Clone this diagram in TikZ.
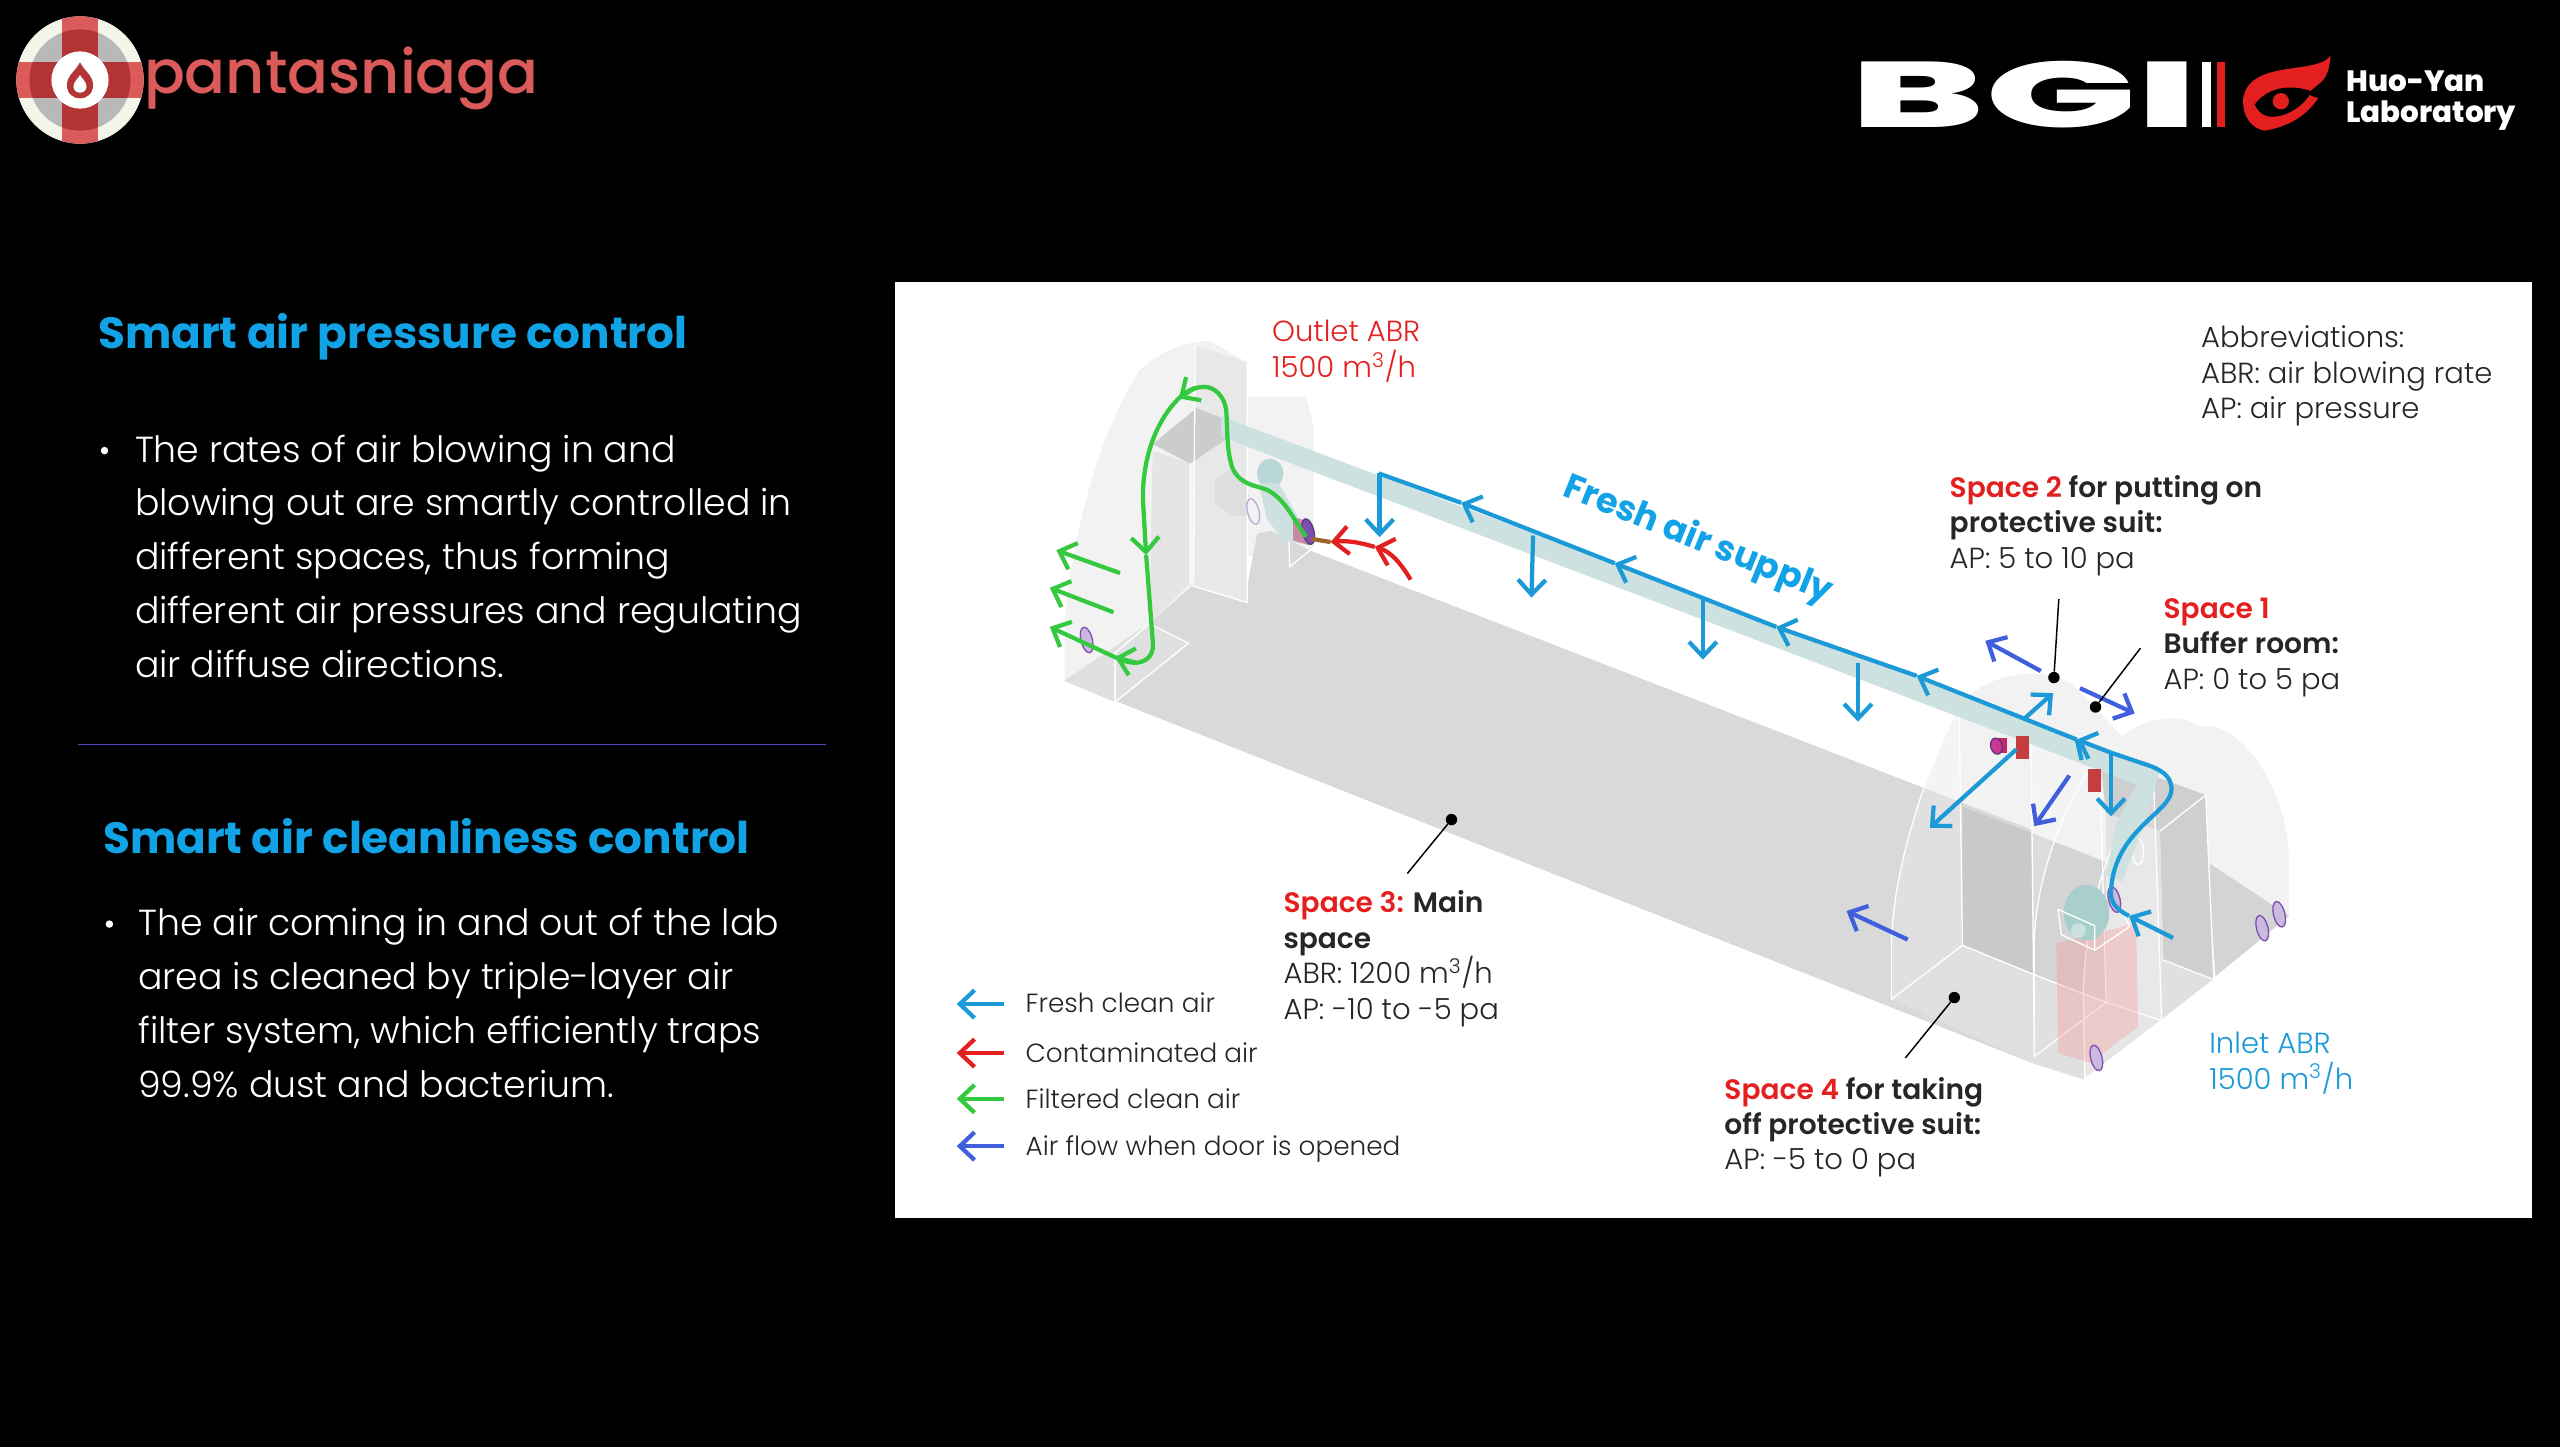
\documentclass[tikz,border=0pt]{standalone}
\usepackage{fontspec}
\setmainfont{Poppins}[UprightFont=* Light, BoldFont=* SemiBold]
\newfontfamily\logofont{Poppins}[UprightFont=* Medium, BoldFont=* ExtraBold]
\newfontfamily\headfont{Poppins}[UprightFont=* Bold]
\usetikzlibrary{arrows.meta,positioning,shapes.geometric}
\definecolor{headblue}{HTML}{12A3E6}
\definecolor{freshblue}{HTML}{1C9AD8}
\definecolor{doorblue}{HTML}{3F5FDC}
\definecolor{dirtyred}{HTML}{E3201F}
\definecolor{cleangreen}{HTML}{35C93F}
\definecolor{logored}{HTML}{DB5B5B}
\definecolor{logodark}{HTML}{B33434}
\definecolor{tubeteal}{HTML}{CDE2E0}
\definecolor{fanteal}{HTML}{A8CFCB}
\definecolor{filterpurple}{HTML}{7E4FB0}
\newcommand{\boldpart}[1]{{\fontsize{17.2}{21.7}\selectfont\bfseries #1}}
\tikzset{
  headtext/.style={anchor=west, inner sep=0pt, text=headblue, font=\headfont\fontsize{26.8}{33}\selectfont},
  bodytext/.style={anchor=north west, inner sep=0pt, align=left, text=white, font=\fontsize{22.2}{33}\selectfont},
  labeltext/.style={anchor=north west, inner sep=0pt, align=left, text=black!85, font=\fontsize{17.8}{21.7}\selectfont},
  legendtext/.style={anchor=west, inner sep=0pt, text=black!85, font=\fontsize{16.1}{18}\selectfont},
  flow/.style={line width=2.6pt, -{Straight Barb[length=9pt,width=17pt,line width=2.6pt]}},
  plainflow/.style={line width=2.6pt},
  freshflow/.style={flow, draw=freshblue},
  dirtyflow/.style={flow, draw=dirtyred},
  cleanflow/.style={flow, draw=cleangreen},
  doorflow/.style={flow, draw=doorblue},
  spotdot/.style={circle, fill=black, inner sep=0pt, minimum size=7pt},
  spotline/.style={draw=black, line width=0.9pt},
  shell/.style={fill=white, fill opacity=0.2, draw=white, line width=0.8pt},
  edgeline/.style={draw=white, line width=0.8pt},
  filterdisc/.style={ellipse, draw=filterpurple, fill=filterpurple!40, line width=0.8pt, inner sep=0pt, minimum width=7pt, minimum height=16pt, rotate=14},
}
\begin{document}
\begin{tikzpicture}[x=1pt, y=-1pt]
    \useasboundingbox (0,0) rectangle (1568,886.3);
    \fill[black] (0,0) rectangle (1568,886.3);
    \fill[white] (548,173) rectangle (1551,746);

    % pantasniaga logo
    \begin{scope}
        \clip (49,49) circle (39);
        \fill[black!5!white!95!yellow] (10,10) rectangle (88,88);
        \fill[black!28] (49,49) circle (31);
        \fill[logored] (38,10) rectangle (60,88);
        \fill[logored] (10,38) rectangle (88,60);
        \clip (49,49) circle (31);
        \fill[logodark] (38,10) rectangle (60,88);
        \fill[logodark] (10,38) rectangle (88,60);
    \end{scope}
    \fill[white] (49,49) circle (17.5);
    \fill[logodark] (49,38) .. controls (51,43) and (57,46) .. (57,52) .. controls (57,63) and (41,63) .. (41,52) .. controls (41,46) and (47,43) .. (49,38);
    \fill[white] (49,46) .. controls (50,48) and (53,50) .. (53,53) .. controls (53,58) and (45,58) .. (45,53) .. controls (45,50) and (48,48) .. (49,46);
    \node[anchor=west, inner sep=0pt, text=logored, font=\logofont\fontsize{37}{37}\selectfont] (pantasname) at (88,48) {pantasniaga};

    % bgi logo
    \node[anchor=center, text=white, font=\logofont\bfseries\fontsize{57}{57}\selectfont] (bgimark) at (1240,58) {\scalebox{2.15}[1]{BGI}};
    \fill[white] (1349,38) rectangle (1354,78);
    \fill[dirtyred] (1358,38) rectangle (1363,78);
    \fill[dirtyred] (1427.5,34) .. controls (1420,46) and (1378,36) .. (1374,60) .. controls (1373,72) and (1380,79) .. (1387,80) .. controls (1400,78) and (1412,72) .. (1420,60) .. controls (1410,58) and (1415,56) .. (1422,50) .. controls (1426,46) and (1427,40) .. (1427.5,34);
    \fill[black] (1381,64) .. controls (1390,52) and (1405,52) .. (1416,56) .. controls (1408,70) and (1392,74) .. (1386,70) .. controls (1383,68) and (1382,66) .. (1381,64);
    \fill[dirtyred] (1397,62) circle (5);
    \node[anchor=north west, inner sep=0pt, align=left, text=white, font=\logofont\bfseries\fontsize{18}{19}\selectfont] (huoyan) at (1437,43) {Huo-Yan\\Laboratory};

    % left column
    \node[headtext] (pressurehead) at (60,206.5) {Smart air pressure control};
    \fill[white] (64,276) circle (2.3);
    \node[bodytext] (pressurebody) at (82.5,266) {The rates of air blowing in and\\blowing out are smartly controlled in\\different spaces, thus forming\\different air pressures and regulating\\air diffuse directions.};
    \draw[draw=doorblue!70!violet, line width=0.7pt] (48,456) -- (506,456);
    \node[headtext] (cleanhead) at (63,512) {Smart air cleanliness control};
    \fill[white] (67,566) circle (2.3);
    \node[bodytext] (cleanbody) at (84.5,556) {The air coming in and out of the lab\\area is cleaned by triple-layer air\\filter system, which efficiently traps\\99.9\% dust and bacterium.};

    % pale shells behind the floor
    \fill[black!5] (652,417) -- (652,380) .. controls (658,320) and (675,262) .. (698,227) .. controls (710,215) and (730,208) .. (741,209) -- (764,222) -- (764,369) -- (683,430) -- cycle;
    \fill[black!5] (764,243) -- (800,243) -- (805,263) -- (805,335) -- (790,347) -- (764,340) -- cycle;
    \fill[black!5] (1158.5,612) -- (1158.5,576) .. controls (1160,530) and (1180,470) .. (1200,433) .. controls (1210,418) and (1240,405) .. (1268,418) -- (1300,451) .. controls (1312,440) and (1335,436) .. (1347,445) .. controls (1370,440) and (1402,480) .. (1402,530) -- (1402,561) -- (1276,661) -- cycle;

    % main floor and walls
    \fill[black!15] (652,417) -- (704,382) -- (730,359) -- (762,369) -- (770,327) -- (778,325) -- (802,337) -- (1244,508) -- (1247,652) -- cycle;
    \fill[black!21] (1202,494) -- (1244,510) -- (1246,597) -- (1202,579) -- cycle;
    \fill[black!12] (1158.5,612) -- (1202,579) -- (1246,597) -- (1247,652) -- cycle;
    \fill[black!17] (1244,510) -- (1290,528) -- (1290,614) -- (1246,597) -- cycle;
    \fill[black!12] (1247,652) -- (1276,661) -- (1356,600) -- (1325,588) -- (1290,614) -- (1246,597) -- cycle;
    \fill[black!11] (1290,498) -- (1323,509) -- (1325,624) -- (1290,614) -- cycle;
    \fill[black!19] (1323,509) -- (1351,487) -- (1356,600) -- (1325,588) -- cycle;
    \fill[black!19] (1286,463) -- (1351,487) -- (1323,509) -- (1290,498) -- cycle;
    \fill[black!17] (1352,528) -- (1402,561) -- (1357,598) -- cycle;

    % far end columns
    \fill[black!9] (732,212) .. controls (742,214) and (752,218) .. (764,222) -- (764,369) -- (731,359) -- cycle;
    \fill[black!10] (706,276) -- (729,284) -- (729,357) -- (704,382) -- cycle;
    \fill[black!20] (706,272) -- (733,250) -- (751,257) -- (751,269) -- (729,284) -- cycle;
    \fill[black!12] (652,417) -- (704,382) -- (728,394) -- (683,430) -- cycle;
    \fill[black!13] (744,294) -- (753,288) -- (764,296) -- (766,316) -- (755,316) -- (744,308) -- cycle;
    \draw[edgeline] (732,212) -- (731,359) -- (764,369) -- (764,222);
    \draw[edgeline] (729,284) -- (729,357) (704,382) -- (728,394) -- (683,430) -- (683,400) -- (704,382);
    \draw[edgeline] (789,320) -- (790,347) -- (805,335) -- (805,263);

    % near end shells
    \draw[shell] (1158.5,612) -- (1158.5,576) .. controls (1160,530) and (1180,470) .. (1200,433) -- (1202,579) -- cycle;
    \draw[shell] (1246,647) -- (1246,576) .. controls (1247,540) and (1262,495) .. (1286,463) -- (1244,449) -- cycle;
    \draw[shell] (1277,661) -- (1276,606) .. controls (1278,560) and (1290,510) .. (1319,475) -- (1324,625) -- cycle;
    \draw[edgeline] (1202,579) -- (1246,597) -- (1290,614) -- (1324,625) (1246,647) -- (1290,614) (1286,463) -- (1290,614);
    \draw[edgeline] (1323,509) -- (1351,487) -- (1356,600) -- (1325,588) (1324,625) -- (1356,600);

    % inlet fan and filter box
    \fill[red!45!white, fill opacity=0.3] (1259.5,578) -- (1308.5,565.5) -- (1309.5,629) -- (1280,651) -- (1260.5,645) -- cycle;
    \fill[fanteal] (1278,559) ellipse (14 and 17);
    \fill[fanteal!60!white] (1273,570) circle (4.5);
    \draw[edgeline] (1260.5,557) -- (1262.5,572.5) -- (1283,582) -- (1304.5,567.5) -- (1298,555);
    \draw[edgeline] (1260.5,557) -- (1283,567) -- (1283,582);
    \draw[edgeline] (1309.5,521.5) ellipse (3.5 and 8);

    % supply duct
    \fill[tubeteal] (748,255) -- (1323,471) -- (1310,481) -- (748,267.5) -- cycle;
    \fill[tubeteal] (1310,478) -- (1323,472) -- (1312,508) -- (1300,540) -- (1290,536) -- (1296,505) -- cycle;
    \fill[fanteal!80!white] (778,290) ellipse (8 and 9);
    \fill[tubeteal] (771,296) -- (783,296) -- (800,325) -- (798,333) -- (786,331) -- (776,318) -- cycle;

    % filters
    \node[filterdisc, fill=black!5, draw=filterpurple!50] (filterbend) at (767.6,313.3) {};
    \node[filterdisc] (filterfar) at (665.6,392) {};
    \fill[logored!55!filterpurple!70!white] (792,317) -- (801,319) -- (802,334) -- (792,331) -- cycle;
    \node[filterdisc, draw=filterpurple!70!black, fill=filterpurple] (filterduct) at (801.3,325.6) {};
    \fill[logodark!75!magenta] (1224,452) rectangle (1229,461);
    \node[filterdisc, minimum height=10pt, minimum width=7pt, fill=magenta!60!filterpurple, draw=filterpurple!70!black] (filterroom) at (1222.8,457) {};
    \fill[dirtyred!70!gray] (1234.5,451) rectangle (1242.5,465);
    \fill[dirtyred!70!gray] (1279,471) rectangle (1287,485);
    \node[filterdisc] (filterinlet) at (1295,551) {};
    \node[filterdisc] (filterbottom) at (1284,648) {};
    \node[filterdisc] (filtersidea) at (1385.6,568.5) {};
    \node[filterdisc] (filtersideb) at (1396,560) {};

    % fresh air
    \draw[freshflow] (1331,574.5) -- (1304,561);
    \draw[plainflow, draw=freshblue] (1304,561) .. controls (1296,557) and (1292,552) .. (1293,545) .. controls (1294,530) and (1300,518) .. (1312,506) .. controls (1322,496) and (1331,490) .. (1330,482) .. controls (1329,476) and (1326,473) .. (1318,469.5) -- (1293,461);
    \draw[freshflow] (1293,461) -- (1272,453);
    \draw[plainflow, draw=freshblue] (1272,453) -- (1275,465.5);
    \draw[freshflow] (1272,453) -- (1174,414);
    \draw[freshflow] (1174,414) -- (1088,384);
    \draw[freshflow] (1088,384) -- (989,345);
    \draw[freshflow] (989,345) -- (895,308);
    \draw[plainflow, draw=freshblue] (895,308) -- (844.5,290);
    \draw[freshflow] (845,290) -- (845,329);
    \draw[freshflow] (939,328) -- (938,366);
    \draw[freshflow] (1043,367) -- (1043,404);
    \draw[freshflow] (1138,406) -- (1138,442);
    \draw[freshflow] (1293,462) -- (1293,500);
    \draw[freshflow] (1235,459) -- (1182,507);
    \draw[freshflow] (1239,441) -- (1257.5,424.5);

    % contaminated air
    \draw[dirtyflow] (864,355) .. controls (858,345) and (852,338) .. (842,335);
    \draw[dirtyflow] (842,335) .. controls (832,332) and (825,331) .. (815,332);
    \draw[plainflow, draw=dirtyred!60!cleangreen] (815,332) -- (803,330);

    % filtered air
    \draw[plainflow, draw=cleangreen] (800,328.7) .. controls (793,320) and (788,306) .. (776,300) .. controls (768,297) and (760,297) .. (755,287) .. controls (751,276) and (752,262) .. (751,251) .. controls (750,243) and (744,237) .. (738,237) .. controls (732,237) and (727,239) .. (722,244);
    \draw[cleanflow] (732,237.5) -- (722,244);
    \draw[cleanflow] (722,244) .. controls (708,258) and (700,280) .. (700,305) -- (702,340);
    \draw[plainflow, draw=cleangreen] (702,340) -- (706,392) .. controls (707,400) and (704,405) .. (696,406) .. controls (692,406) and (688,405) .. (684,403);
    \draw[cleanflow] (696,406) -- (683,402.5);
    \draw[cleanflow] (686,351) -- (647,337);
    \draw[cleanflow] (682,375) -- (643,360);
    \draw[cleanflow] (684,403) -- (643,384);

    % air flow when door is opened
    \draw[doorflow] (1250,411) -- (1216,392.5);
    \draw[doorflow] (1274,421.5) -- (1307.5,437);
    \draw[doorflow] (1267.5,475) -- (1246,506);
    \draw[doorflow] (1168.5,575.5) -- (1131,558);

    % callouts
    \node[spotdot] (spacetwodot) at (1258,415) {};
    \coordinate (spacetwoend) at (1261,367);
    \draw[spotline] (spacetwodot) -- (spacetwoend);
    \node[spotdot] (spaceonedot) at (1283.5,433) {};
    \coordinate (spaceoneend) at (1311,397);
    \draw[spotline] (spaceonedot) -- (spaceoneend);
    \node[spotdot] (spacethreedot) at (889,502) {};
    \coordinate (spacethreeend) at (862,535);
    \draw[spotline] (spacethreedot) -- (spacethreeend);
    \node[spotdot] (spacefourdot) at (1197,611) {};
    \coordinate (spacefourend) at (1167,648);
    \draw[spotline] (spacefourdot) -- (spacefourend);

    % labels
    \node[labeltext, text=dirtyred] (outletlabel) at (779,196) {Outlet ABR\\1500 m\textsuperscript{3}/h};
    \node[labeltext] (abbrevlabel) at (1348,199.5) {Abbreviations:\\ABR: air blowing rate\\AP: air pressure};
    \node[anchor=center, rotate=-22, text=headblue, font=\headfont\fontsize{21.5}{23}\selectfont] (freshlabel) at (1040,331) {Fresh air supply};
    \node[labeltext] (spacetwolabel) at (1194,291) {\boldpart{\textcolor{dirtyred}{Space 2} for putting on}\\\boldpart{protective suit:}\\AP: 5 to 10 pa};
    \node[labeltext] (spaceonelabel) at (1325,366) {\boldpart{\textcolor{dirtyred}{Space 1}}\\\boldpart{Buffer room:}\\AP: 0 to 5 pa};
    \node[labeltext] (spacethreelabel) at (786,545.5) {\boldpart{\textcolor{dirtyred}{Space 3:} Main}\\\boldpart{space}\\ABR: 1200 m\textsuperscript{3}/h\\AP: -10 to -5 pa};
    \node[labeltext] (spacefourlabel) at (1056,659.5) {\boldpart{\textcolor{dirtyred}{Space 4} for taking}\\\boldpart{off protective suit:}\\AP: -5 to 0 pa};
    \node[labeltext, text=freshblue] (inletlabel) at (1353,632) {Inlet ABR\\1500 m\textsuperscript{3}/h};

    % legend
    \coordinate (freshstart) at (615,615);
    \coordinate (dirtystart) at (615,645);
    \coordinate (cleanstart) at (615,673);
    \coordinate (doorstart) at (615,702);
    \node[legendtext] (freshname) at (628,614) {Fresh clean air};
    \node[legendtext] (dirtyname) at (628,645) {Contaminated air};
    \node[legendtext] (cleanname) at (628,673) {Filtered clean air};
    \node[legendtext] (doorname) at (628,703.5) {Air flow when door is opened};
    \draw[freshflow] (freshstart) -- ++(-29,0);
    \draw[dirtyflow] (dirtystart) -- ++(-29,0);
    \draw[cleanflow] (cleanstart) -- ++(-29,0);
    \draw[doorflow] (doorstart) -- ++(-29,0);
\end{tikzpicture}
\end{document}
